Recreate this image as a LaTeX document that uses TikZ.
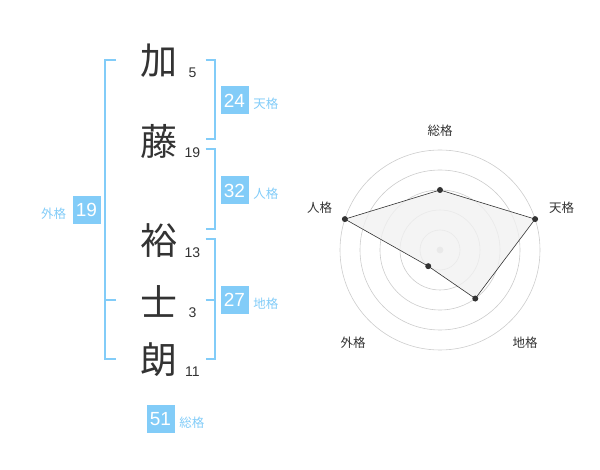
\documentclass[tikz,border=0pt]{standalone}
\usepackage{fontspec}
\setmainfont{Liberation Sans}
\newfontfamily\cjk{Noto Sans CJK JP}
\usetikzlibrary{positioning, calc}
\definecolor{kakublue}{HTML}{82CCF8}
\definecolor{kakutext}{HTML}{333333}
\definecolor{ringgray}{HTML}{CCCCCC}
\definecolor{areagray}{HTML}{F1F1F1}

\begin{document}
\begin{tikzpicture}[x=1pt, y=-1pt,
    kanji/.style={font=\cjk\fontsize{37}{40}\selectfont, text=kakutext, inner sep=0pt},
    strokes/.style={font=\fontsize{14}{16}\selectfont, text=kakutext, inner sep=0pt},
    kakubox/.style={fill=kakublue, text=white, minimum size=28pt, inner sep=0pt, font=\fontsize{19}{20}\selectfont},
    kakulabel/.style={font=\cjk\fontsize{12.5}{14}\selectfont, text=kakublue, inner sep=0pt},
    bracket/.style={draw=kakublue, line width=2pt},
    ring/.style={draw=ringgray, line width=0.6pt},
    axislabel/.style={font=\cjk\fontsize{12.5}{14}\selectfont, text=kakutext, inner sep=0pt},
    dot/.style={circle, fill=kakutext, inner sep=0pt, minimum size=6pt}]

    \useasboundingbox (0,0) rectangle (600,470);

    % Name characters and stroke counts
    \foreach \i/\c/\n/\y in {1/加/5/61, 2/藤/19/141, 3/裕/13/241, 4/士/3/301, 5/朗/11/360} {
        \node[kanji] (c\i) at (159,\y) {\c};
        \node[strokes] (n\i) at (192.5,\y+12) {\n};
    }

    % Bracket ends
    \coordinate (tenA) at (205.5,60);
    \coordinate (tenB) at (205.5,139.5);
    \coordinate (jinA) at (205.5,149.5);
    \coordinate (jinB) at (205.5,229.5);
    \coordinate (chiA) at (205.5,239.5);
    \coordinate (chiM) at (205.5,300);
    \coordinate (chiB) at (205.5,359.5);
    \coordinate (gaiA) at (116,60);
    \coordinate (gaiM) at (116,300);
    \coordinate (gaiB) at (116,359.5);

    % Right brackets
    \draw[bracket] (tenA) -| ($(tenB)+(9,0)$) -- (tenB);
    \draw[bracket] (jinA) -| ($(jinB)+(9,0)$) -- (jinB);
    \draw[bracket] (chiA) -| ($(chiB)+(9,0)$) -- (chiB);
    \draw[bracket] (chiM) -- ++(9,0);

    % Left bracket
    \draw[bracket] (gaiA) -| ($(gaiB)+(-11.3,0)$) -- (gaiB);
    \draw[bracket] (gaiM) -- ++(-11.3,0);

    % Fortune boxes
    \node[kakubox] (ten) at (234.5,100.5) {24};
    \node[kakulabel, right=4.5pt of ten, yshift=-3.5pt] (tenl) {天格};
    \node[kakubox] (jin) at (234.5,190.5) {32};
    \node[kakulabel, right=4.5pt of jin, yshift=-3.5pt] (jinl) {人格};
    \node[kakubox] (chi) at (234.5,300) {27};
    \node[kakulabel, right=4.5pt of chi, yshift=-3.5pt] (chil) {地格};
    \node[kakubox] (gai) at (86.5,210) {19};
    \node[kakulabel, left=6pt of gai, yshift=-3.5pt] (gail) {外格};
    \node[kakubox] (sou) at (160.5,419) {51};
    \node[kakulabel, right=4.5pt of sou, yshift=-3.5pt] (soul) {総格};

    % Radar chart
    \begin{scope}[shift={(440,250)}, y=1pt]
        \foreach \r in {20, 40, 60, 80, 100} {
            \draw[ring] (0,0) circle (\r);
        }
        \fill[ringgray] (0,0) circle (3.4);

        \foreach \a/\r/\k in {90/60/sou, 18/100/ten, -54/60/chi, -126/20/gai, 162/100/jin} {
            \coordinate (p\k) at (\a:\r);
        }
        \filldraw[fill=areagray, fill opacity=0.8, draw=kakutext, line width=0.6pt]
            (psou) -- (pten) -- (pchi) -- (pgai) -- (pjin) -- cycle;
        \foreach \k in {sou, ten, chi, gai, jin} {
            \node[dot] (d\k) at (p\k) {};
        }

        % Axis labels
        \node[axislabel] (asou) at (0,119.5) {総格};
        \node[axislabel] (aten) at (121.5,42) {天格};
        \node[axislabel] (achi) at (85,-92.3) {地格};
        \node[axislabel] (agai) at (-87,-92.3) {外格};
        \node[axislabel] (ajin) at (-120.5,42) {人格};
    \end{scope}
\end{tikzpicture}
\end{document}
